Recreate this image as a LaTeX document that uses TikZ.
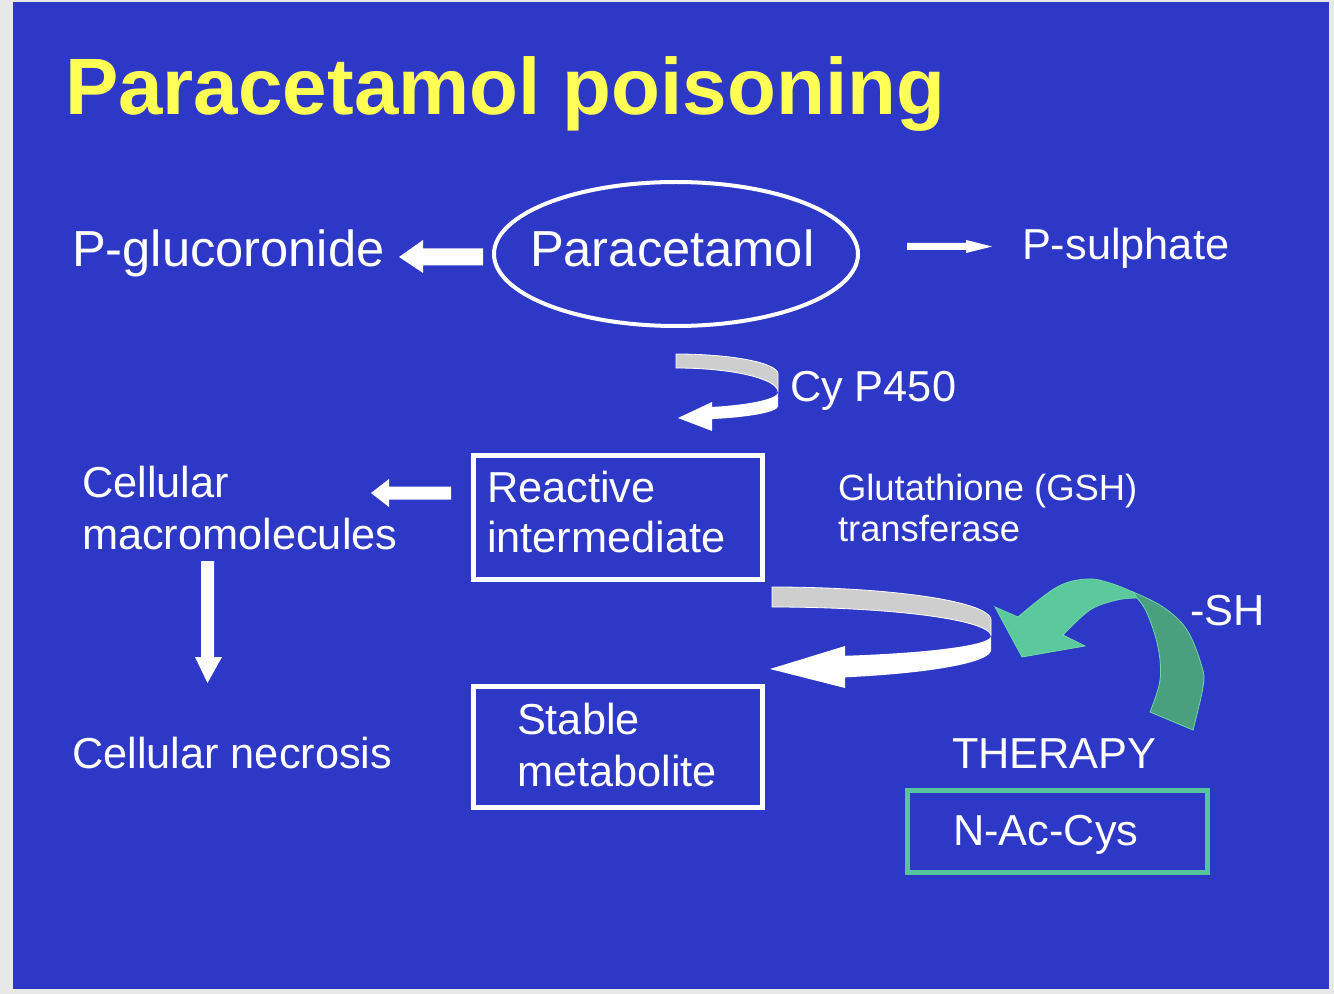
\documentclass[tikz,border=0pt]{standalone}
\usepackage{fontspec}
\setmainfont{Liberation Sans}
\usetikzlibrary{shapes.geometric,calc}
\definecolor{slideblue}{RGB}{46,56,198}
\definecolor{pagegrey}{RGB}{232,232,232}
\definecolor{titleyellow}{RGB}{255,255,85}
\definecolor{ribbongrey}{RGB}{206,206,206}
\definecolor{glight}{RGB}{91,201,155}
\definecolor{gdark}{RGB}{74,160,126}
\definecolor{gedge}{RGB}{110,215,168}
\definecolor{gbox}{RGB}{85,198,154}
\newcommand{\szTitle}{\fontsize{60}{72}\selectfont}
\newcommand{\szBig}{\fontsize{38}{45}\selectfont}
\newcommand{\szMed}{\fontsize{32.5}{39}\selectfont}
\newcommand{\szSmall}{\fontsize{27.3}{31}\selectfont}
\begin{document}
\begin{tikzpicture}[x=0.75pt,y=0.75pt,
  txt/.style={anchor=base west, inner sep=0pt, outer sep=0pt, text=white},
  boxst/.style={draw=white, line width=3.4pt, rectangle, inner sep=0pt},
  blockarrow/.style={fill=white},
  ribbonback/.style={fill=ribbongrey, draw=white, line width=0.6pt},
  ribbonfront/.style={fill=white}]
\useasboundingbox (0,0) rectangle (1334,-994);
\fill[pagegrey] (0,0) rectangle (1334,-994);
\fill[slideblue] (13,-2) rectangle (1329,-989);

% title
\node[txt, text=titleyellow, font=\bfseries\szTitle] (title) at (65,-115) {Paracetamol poisoning};

% top row
\node[draw=white, line width=3pt, ellipse, minimum width=273pt, minimum height=108pt, inner sep=0pt] (para) at (676,-254) {};
\node[txt, font=\szBig] (paratext) at (530,-267) {Paracetamol};
\node[txt, font=\szBig] (gluc) at (72,-267) {P-glucoronide};
\node[txt, font=\szMed] (sulph) at (1022,-260) {P-sulphate};

% arrow Paracetamol -> P-glucoronide
\fill[blockarrow] (483,-248.5) -- (423,-248.5) -- (423,-240) -- (399,-257) -- (423,-273) -- (423,-265.5) -- (483,-265.5) -- cycle;

% arrow Paracetamol -> P-sulphate
\fill[blockarrow] (907,-243) -- (966,-243) -- (966,-240) -- (992,-246.5) -- (966,-253) -- (966,-250) -- (907,-250) -- cycle;

% Cy P450 curved arrow
\fill[ribbonback] plot[domain=90:0,samples=40] ({676+102*cos(\x)},{-374+20*sin(\x)})
  -- plot[domain=0:90,samples=40] ({676+102*cos(\x)},{-392+24*sin(\x)}) -- cycle;
\fill[ribbonfront] plot[domain=0:-69.3,samples=40] ({676+102*cos(\x)},{-392+16*sin(\x)})
  -- (712,-402) -- (678,-418) -- (712,-431) -- (712,-419)
  -- plot[domain=-69.3:0,samples=40] ({676+102*cos(\x)},{-406+14*sin(\x)}) -- cycle;
\node[txt, font=\szMed] (cyp) at (790,-402) {Cy P450};

% Reactive intermediate box
\node[boxst, minimum width=216.75pt, minimum height=93pt] (rbox) at (618,-517.5) {};
\node[txt, font=\szMed] (react1) at (487,-502) {Reactive};
\node[txt, font=\szMed] (react2) at (487,-552) {intermediate};

% Cellular macromolecules
\node[txt, font=\szMed] (cell1) at (82,-497) {Cellular};
\node[txt, font=\szMed] (cell2) at (82,-549) {macromolecules};
\fill[blockarrow] (451,-486.5) -- (389,-486.5) -- (389,-479) -- (371,-493) -- (389,-507) -- (389,-499.5) -- (451,-499.5) -- cycle;

% down arrow
\fill[blockarrow] (201,-561) -- (214,-561) -- (214,-657) -- (222,-657) -- (207.5,-683) -- (195,-657) -- (201,-657) -- cycle;
\node[txt, font=\szMed] (necro) at (72,-768) {Cellular necrosis};

% Glutathione
\node[txt, font=\szSmall] (glut1) at (838,-500) {Glutathione (GSH)};
\node[txt, font=\szSmall] (glut2) at (838,-541) {transferase};

% big curved arrow
\fill[ribbonback] plot[domain=90:0,samples=50] ({772+219*cos(\x)},{-620+33*sin(\x)})
  -- plot[domain=0:90,samples=50] ({772+219*cos(\x)},{-636+29*sin(\x)}) -- cycle;
\fill[ribbonfront] plot[domain=0:-70.5,samples=50] ({772+219*cos(\x)},{-636+21*sin(\x)})
  -- (845,-646) -- (770,-669) -- (845,-688) -- (845,-677)
  -- plot[domain=-70.5:0,samples=50] ({772+219*cos(\x)},{-650+29*sin(\x)}) -- cycle;

% Stable metabolite
\node[boxst, minimum width=216.75pt, minimum height=90.75pt] (sbox) at (618,-747) {};
\node[txt, font=\szMed] (stab1) at (517,-734) {Stable};
\node[txt, font=\szMed] (stab2) at (517,-786) {metabolite};

% green curved arrow
\fill[gdark, draw=gedge, line width=0.6pt] plot[smooth, tension=0.6] coordinates {(1133,-592) (1163,-607) (1187,-630) (1202,-667) (1203,-687) (1193,-730)}
  -- (1150,-712)
  -- plot[smooth, tension=0.6] coordinates {(1150,-712) (1160,-680) (1158,-647) (1147,-613) (1137,-598)} -- cycle;
\fill[glight, draw=gedge, line width=0.6pt] (1022,-657) -- (995,-607) -- (1018,-617)
  -- plot[smooth, tension=0.6] coordinates {(1018,-617) (1057,-587) (1087,-579) (1110,-583) (1133,-592)}
  -- (1137,-598)
  -- plot[smooth, tension=0.6] coordinates {(1137,-598) (1117,-600) (1090,-610) (1063,-635)}
  -- (1085,-646) -- cycle;
\node[txt, font=\szMed] (sh) at (1190,-625) {-SH};

% therapy
\node[txt, font=\szMed] (therapy) at (952,-768) {THERAPY};
\node[draw=gbox, line width=3.75pt, rectangle, inner sep=0pt, minimum width=225pt, minimum height=61.5pt] (nbox) at (1057.5,-831.5) {};
\node[txt, font=\szMed] (nac) at (953,-845) {N-Ac-Cys};
\end{tikzpicture}
\end{document}
